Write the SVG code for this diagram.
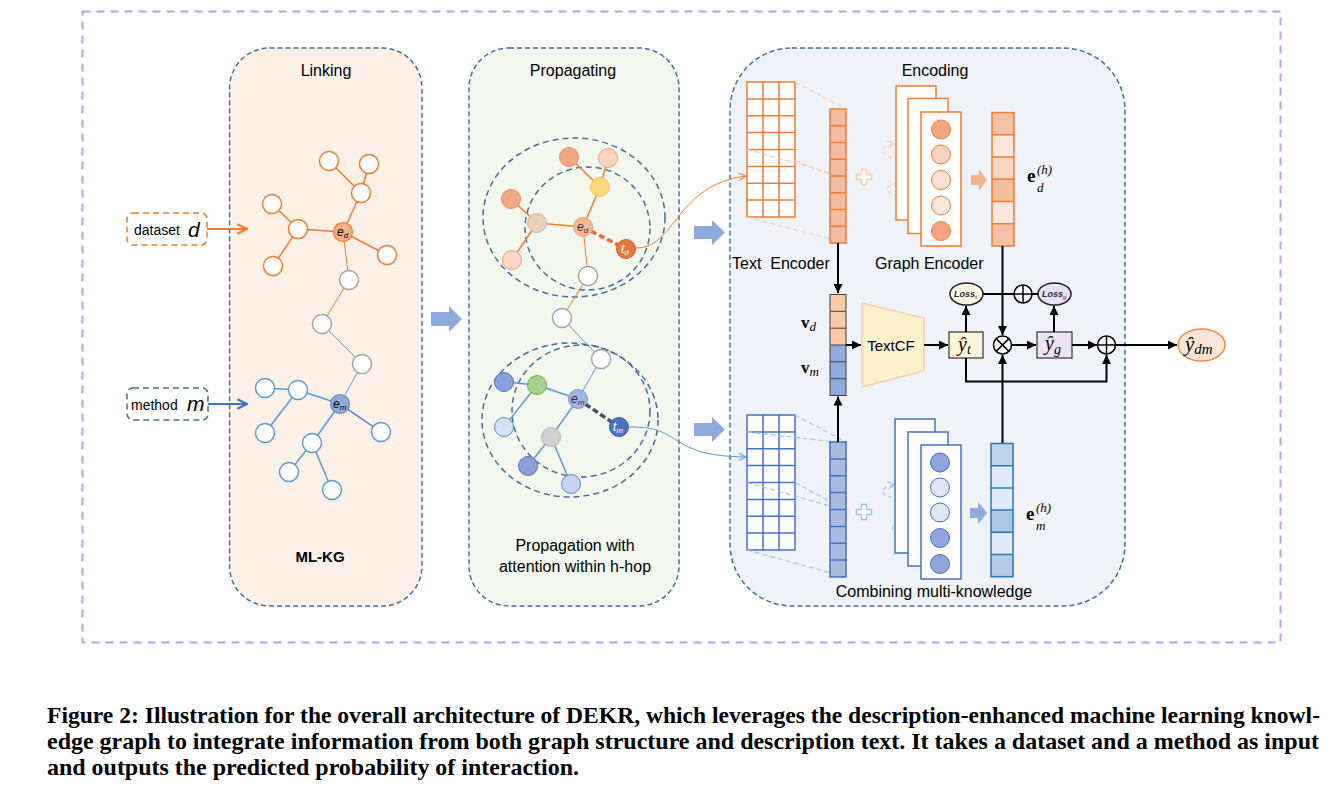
<svg xmlns="http://www.w3.org/2000/svg" width="1343" height="796" viewBox="0 0 1343 796">
<defs>
<style>
.panel{stroke:#44709a;stroke-width:1.5;stroke-dasharray:5 3}
.lbl{font-family:"Liberation Sans",Arial,sans-serif;font-size:16px;fill:#000}
.math{font-family:"Liberation Serif","Times New Roman",serif;fill:#000}
.on{fill:#fff;stroke:#ed7d31;stroke-width:1.5}
.gn{fill:#fff;stroke:#a5a5a5;stroke-width:1.5}
.bn{fill:#fff;stroke:#5b9bd5;stroke-width:1.5}
.oe{stroke:#ed7d31;stroke-width:1.5;fill:none}
.be{stroke:#5b9bd5;stroke-width:1.5;fill:none}
.blk{stroke:#000;stroke-width:2;fill:none}
.ring{fill:none;stroke:#44709a;stroke-width:1.5;stroke-dasharray:6 4}
.gridO{fill:#fff;stroke:#ed7d31;stroke-width:1.5}
.gridB{fill:#fff;stroke:#4472c4;stroke-width:1.5}
.projO{stroke:#f8cbad;stroke-width:1.2;stroke-dasharray:5 3;fill:none}
.projB{stroke:#9dc3e6;stroke-width:1.2;stroke-dasharray:5 3;fill:none}
.cap{font-family:"Liberation Serif","Times New Roman",serif;font-weight:bold;font-size:23px;fill:#000}
.loss{font-family:"Liberation Sans",Arial,sans-serif;font-size:9px;font-style:italic;font-weight:bold;fill:#1f2a50}
</style>
<marker id="ah" viewBox="0 0 10 10" refX="10" refY="5" markerWidth="9" markerHeight="9" markerUnits="userSpaceOnUse" orient="auto"><path d="M0,0 L10,5 L0,10 Z" fill="#000"/></marker>
<marker id="vO" viewBox="0 0 10 10" refX="9" refY="5" markerWidth="12" markerHeight="12" markerUnits="userSpaceOnUse" orient="auto"><path d="M1,1 L9,5 L1,9" fill="none" stroke="#ed7d31" stroke-width="1.8"/></marker>
<marker id="vB" viewBox="0 0 10 10" refX="9" refY="5" markerWidth="12" markerHeight="12" markerUnits="userSpaceOnUse" orient="auto"><path d="M1,1 L9,5 L1,9" fill="none" stroke="#4472c4" stroke-width="1.8"/></marker>
<marker id="vOs" viewBox="0 0 10 10" refX="9" refY="5" markerWidth="9" markerHeight="9" markerUnits="userSpaceOnUse" orient="auto"><path d="M1,1 L9,5 L1,9" fill="none" stroke="#ed7d31" stroke-width="1.2"/></marker>
<marker id="vBs" viewBox="0 0 10 10" refX="9" refY="5" markerWidth="9" markerHeight="9" markerUnits="userSpaceOnUse" orient="auto"><path d="M1,1 L9,5 L1,9" fill="none" stroke="#5b9bd5" stroke-width="1.2"/></marker>
<marker id="vOl" viewBox="0 0 10 10" refX="9" refY="5" markerWidth="9" markerHeight="9" markerUnits="userSpaceOnUse" orient="auto"><path d="M1,1 L9,5 L1,9" fill="none" stroke="#f8cbad" stroke-width="1.2"/></marker>
<marker id="vBl" viewBox="0 0 10 10" refX="9" refY="5" markerWidth="9" markerHeight="9" markerUnits="userSpaceOnUse" orient="auto"><path d="M1,1 L9,5 L1,9" fill="none" stroke="#9dc3e6" stroke-width="1.2"/></marker>
</defs>
<rect width="1343" height="796" fill="#fff"/>

<!-- outer frame -->
<rect id="frame" x="82.5" y="11.5" width="1198" height="631" fill="none" stroke="#c39be6" stroke-width="2" stroke-dasharray="8 6"/>

<!-- panels -->
<g id="panel-linking">
<rect class="panel" x="229.5" y="48" width="192.5" height="558" rx="40" fill="#fdf0e7"/>
<text class="lbl" x="326" y="76" text-anchor="middle">Linking</text>
<text class="lbl" x="320" y="562" text-anchor="middle" style="font-weight:bold;font-size:15px">ML-KG</text>
</g>
<g id="panel-propagating">
<rect class="panel" x="469" y="48" width="210" height="558" rx="40" fill="#f3f7ee"/>
<text class="lbl" x="573" y="76" text-anchor="middle">Propagating</text>
<text class="lbl" x="575" y="551" text-anchor="middle">Propagation with</text>
<text class="lbl" x="575" y="572" text-anchor="middle">attention within h-hop</text>
</g>
<g id="panel-encoding">
<rect class="panel" x="730" y="48" width="395" height="558" rx="62" fill="#eff3f9"/>
<text class="lbl" x="935" y="76" text-anchor="middle">Encoding</text>
<text class="lbl" x="732" y="269">Text&#160; Encoder</text>
<text class="lbl" x="875" y="269">Graph Encoder</text>
<text class="lbl" x="934" y="597" text-anchor="middle">Combining multi-knowledge</text>
</g>

<!-- inputs -->
<g id="input-dataset">
<rect x="127" y="213" width="80" height="32" rx="6" fill="#fff" stroke="#ed7d31" stroke-width="1.5" stroke-dasharray="6 4"/>
<text x="134" y="235" style="font-family:'Liberation Sans',Arial,sans-serif;font-size:14px">dataset</text>
<text x="188" y="237" style="font-family:'Liberation Sans',Arial,sans-serif;font-size:21px;font-style:italic">d</text>
</g>
<g id="input-method">
<rect x="127" y="388" width="81" height="32" rx="6" fill="#fff" stroke="#44709a" stroke-width="1.5" stroke-dasharray="6 4"/>
<text x="131" y="410" style="font-family:'Liberation Sans',Arial,sans-serif;font-size:14px">method</text>
<text x="187" y="411" style="font-family:'Liberation Sans',Arial,sans-serif;font-size:21px;font-style:italic">m</text>
</g>

<!-- block arrows -->
<g id="block-arrows">
<path d="M431,312 H449 V306 L462,319 L449,332 V326 H431 Z" fill="#8ea9db"/>
<path d="M694,226 H712 V220 L725,232.5 L712,245 V239 H694 Z" fill="#8ea9db"/>
<path d="M694,423 H712 V417 L725,429.5 L712,442 V436 H694 Z" fill="#8ea9db"/>
<path d="M971,175 H979 V169 L987,180 L979,191 V185 H971 Z" fill="#f4b183"/>
<path d="M970,508 H978 V502 L987,513 L978,524 V518 H970 Z" fill="#8faadc"/>
</g>

<!-- connectors -->
<g id="connectors">
<line x1="207" y1="229" x2="247" y2="229" stroke="#ed7d31" stroke-width="2" marker-end="url(#vO)"/>
<line x1="208" y1="404" x2="247" y2="404" stroke="#4472c4" stroke-width="2" marker-end="url(#vB)"/>
<line class="oe" x1="329" y1="161" x2="361" y2="193"/>
<line class="oe" x1="369" y1="164" x2="361" y2="193"/>
<line class="oe" x1="361" y1="193" x2="343" y2="232"/>
<line class="oe" x1="272" y1="204" x2="298" y2="229"/>
<line class="oe" x1="298" y1="229" x2="343" y2="232"/>
<line class="oe" x1="298" y1="229" x2="273" y2="266"/>
<line class="oe" x1="343" y1="232" x2="387" y2="255"/>
<line x1="343" y1="232" x2="349" y2="280" stroke="#ed7d31" stroke-width="1"/>
<line x1="349" y1="280" x2="322" y2="324" stroke="#ed7d31" stroke-width="1"/>
<line x1="322" y1="324" x2="362" y2="364" stroke="#5b9bd5" stroke-width="1"/>
<line x1="362" y1="364" x2="340" y2="404" stroke="#5b9bd5" stroke-width="1"/>
<line class="be" x1="265" y1="388" x2="298" y2="390"/>
<line class="be" x1="298" y1="390" x2="340" y2="404"/>
<line class="be" x1="298" y1="390" x2="265" y2="433"/>
<line x1="340" y1="404" x2="381" y2="432" stroke="#4472c4" stroke-width="1.5"/>
<line class="be" x1="340" y1="404" x2="312" y2="443"/>
<line class="be" x1="312" y1="443" x2="289" y2="472"/>
<line class="be" x1="312" y1="443" x2="332" y2="490"/>
</g>

<!-- middle rings -->
<g id="rings-top">
<ellipse class="ring" cx="574" cy="217.5" rx="91" ry="79.5" fill="#fff"/>
<ellipse class="ring" cx="587.5" cy="228.5" rx="62.5" ry="61.5" fill="#fdf6ec"/>
</g>
<g id="rings-bottom">
<ellipse class="ring" cx="570" cy="420" rx="88" ry="77" fill="#fff"/>
<ellipse class="ring" cx="581" cy="411" rx="69" ry="66" fill="none"/>
</g>

<g id="mid-edges">
<line class="oe" x1="569" y1="157" x2="600" y2="187"/>
<line class="oe" x1="608" y1="158" x2="600" y2="187"/>
<line class="oe" x1="600" y1="187" x2="583" y2="227"/>
<line class="oe" x1="511" y1="199" x2="537" y2="223"/>
<line class="oe" x1="537" y1="223" x2="583" y2="227"/>
<line class="oe" x1="537" y1="223" x2="512" y2="260"/>
<line x1="583" y1="227" x2="588" y2="276" stroke="#ed7d31" stroke-width="1"/>
<line x1="588" y1="276" x2="562" y2="318" stroke="#ed7d31" stroke-width="1"/>
<line x1="583" y1="227" x2="626" y2="249" stroke="#e0703a" stroke-width="3.5" stroke-dasharray="6 3"/>
<line x1="562" y1="318" x2="601" y2="359" stroke="#5b9bd5" stroke-width="1"/>
<line x1="601" y1="359" x2="578" y2="399" stroke="#5b9bd5" stroke-width="1"/>
<line class="be" x1="504" y1="382" x2="537" y2="385"/>
<line class="be" x1="537" y1="385" x2="578" y2="399"/>
<line class="be" x1="537" y1="385" x2="504" y2="427"/>
<line class="be" x1="578" y1="399" x2="551" y2="437"/>
<line class="be" x1="551" y1="437" x2="528" y2="466"/>
<line class="be" x1="551" y1="437" x2="571" y2="484"/>
<line x1="578" y1="399" x2="619" y2="427" stroke="#44546a" stroke-width="3.5" stroke-dasharray="6 3"/>
<path d="M636,248 C676,248 675,185 746,176" fill="none" stroke="#ed7d31" stroke-width="1" marker-end="url(#vOs)"/>
<path d="M629,427 C685,426 665,456 746,457" fill="none" stroke="#5b9bd5" stroke-width="1" marker-end="url(#vBs)"/>
</g>

<!-- left graph nodes -->
<g id="kg-dataset-nodes">
<circle class="on" cx="329" cy="161" r="9.5"/>
<circle class="on" cx="369" cy="164" r="9.5"/>
<circle class="on" cx="361" cy="193" r="9.5"/>
<circle class="on" cx="272" cy="204" r="9.5"/>
<circle class="on" cx="298" cy="229" r="9.5"/>
<circle class="on" cx="387" cy="255" r="9.5"/>
<circle class="on" cx="273" cy="266" r="9.5"/>
</g>
<g id="node-ed">
<circle cx="343" cy="232" r="9.5" fill="#f4b183" stroke="#ed7d31" stroke-width="1.2"/>
<text x="337" y="236" style="font-family:'Liberation Sans',Arial,sans-serif;font-size:12px;font-style:italic">e<tspan font-size="8" dy="2">d</tspan></text>
</g>
<g id="kg-bridge-nodes">
<circle class="gn" cx="349" cy="280" r="9.5"/>
<circle class="gn" cx="322" cy="324" r="9.5"/>
<circle class="gn" cx="362" cy="364" r="9.5"/>
</g>
<g id="kg-method-nodes">
<circle class="bn" cx="265" cy="388" r="9.5"/>
<circle class="bn" cx="298" cy="390" r="9.5"/>
<circle class="bn" cx="265" cy="433" r="9.5"/>
<circle class="bn" cx="381" cy="432" r="9.5"/>
<circle class="bn" cx="312" cy="443" r="9.5"/>
<circle class="bn" cx="289" cy="472" r="9.5"/>
<circle class="bn" cx="332" cy="490" r="9.5"/>
</g>
<g id="node-em">
<circle cx="340" cy="404" r="9.5" fill="#8faadc" stroke="#6f8cc8" stroke-width="1.2"/>
<text x="333" y="408" style="font-family:'Liberation Sans',Arial,sans-serif;font-size:12px;font-style:italic">e<tspan font-size="8" dy="2">m</tspan></text>
</g>

<!-- middle nodes -->
<g id="prop-dataset-nodes">
<circle cx="569" cy="157" r="9.5" fill="#f2a888" stroke="#f08a5a" stroke-width="1"/>
<circle cx="608" cy="158" r="9.5" fill="#f9d5c2" stroke="#f0a070" stroke-width="1"/>
<circle cx="600" cy="187" r="9.5" fill="#fed87c" stroke="#f8c850" stroke-width="1"/>
<circle cx="511" cy="199" r="9.5" fill="#f2a888" stroke="#f08a5a" stroke-width="1"/>
<circle cx="537" cy="223" r="9.5" fill="#e9cfba" stroke="#c8b8a8" stroke-width="1"/>
<circle cx="512" cy="260" r="9.5" fill="#f9d8c6" stroke="#f0a070" stroke-width="1"/>
<circle class="gn" cx="588" cy="276" r="9.5"/>
<circle class="gn" cx="562" cy="318" r="9.5"/>
</g>
<g id="prop-ed">
<circle cx="583" cy="227" r="9.5" fill="#f5b897" stroke="#f0a070" stroke-width="1"/>
<text x="577" y="231" style="font-family:'Liberation Sans',Arial,sans-serif;font-size:12px;font-style:italic;fill:#333">e<tspan font-size="8" dy="2">d</tspan></text>
</g>
<g id="prop-td">
<circle cx="626" cy="249" r="9.5" fill="#e07a40" stroke="#c86428" stroke-width="1"/>
<text x="621" y="253" style="font-family:'Liberation Sans',Arial,sans-serif;font-size:12px;font-style:italic;fill:#fff">t<tspan font-size="8" dy="2">d</tspan></text>
</g>
<g id="prop-method-nodes">
<circle class="gn" cx="601" cy="359" r="9.5"/>
<circle cx="504" cy="382" r="9.5" fill="#8a9fd8" stroke="#5a78c0" stroke-width="1"/>
<circle cx="537" cy="385" r="9.5" fill="#a9d18e" stroke="#70ad47" stroke-width="1"/>
<circle cx="504" cy="427" r="9.5" fill="#d6e0f5" stroke="#5b8ad0" stroke-width="1"/>
<circle cx="551" cy="437" r="9.5" fill="#d0d0d0" stroke="#b8b8b8" stroke-width="1"/>
<circle cx="528" cy="466" r="9.5" fill="#8a9fd8" stroke="#5a78c0" stroke-width="1"/>
<circle cx="571" cy="484" r="9.5" fill="#c5d3f0" stroke="#5b8ad0" stroke-width="1"/>
</g>
<g id="prop-em">
<circle cx="578" cy="399" r="9.5" fill="#a4b4e0" stroke="#7f96d0" stroke-width="1"/>
<text x="571" y="403" style="font-family:'Liberation Sans',Arial,sans-serif;font-size:12px;font-style:italic;fill:#333">e<tspan font-size="8" dy="2">m</tspan></text>
</g>
<g id="prop-tm">
<circle cx="619" cy="427" r="9.5" fill="#4f72c0" stroke="#3a5ca8" stroke-width="1"/>
<text x="613" y="431" style="font-family:'Liberation Sans',Arial,sans-serif;font-size:12px;font-style:italic;fill:#fff">t<tspan font-size="8" dy="2">m</tspan></text>
</g>

<!-- Text encoder top -->
<g id="text-encoder-d">
<rect class="gridO" x="747" y="82" width="48" height="135"/>
<path d="M763,82 V217 M779,82 V217 M747,98.9 H795 M747,115.8 H795 M747,132.6 H795 M747,149.5 H795 M747,166.4 H795 M747,183.3 H795 M747,200.1 H795" stroke="#ed7d31" stroke-width="1.5" fill="none"/>
<path class="projO" d="M795,82 L846,109 M747,149.5 L845,177 M795,161 L845,180 M747,217 L846,243"/>
<rect x="830" y="109" width="16" height="134" fill="#f4bca0" stroke="#ed7d31" stroke-width="1.5"/>
<path d="M830,125.75 H846 M830,142.5 H846 M830,159.25 H846 M830,176 H846 M830,192.75 H846 M830,209.5 H846 M830,226.25 H846" stroke="#ed7d31" stroke-width="1.5"/>
</g>
<g id="text-encoder-m">
<rect class="gridB" x="747" y="415" width="48" height="135"/>
<path d="M763,415 V550 M779,415 V550 M747,431.9 H795 M747,448.8 H795 M747,465.6 H795 M747,482.5 H795 M747,499.4 H795 M747,516.3 H795 M747,533.1 H795" stroke="#4472c4" stroke-width="1.5" fill="none"/>
<path class="projB" d="M795,415 L846,442 M747,431.9 L844,443 M747,482.5 L844,510 M795,482.5 L844,509 M747,550 L846,577"/>
<rect x="830" y="442" width="16" height="135" fill="#a9b9e0" stroke="#4472c4" stroke-width="1.5"/>
<path d="M830,458.9 H846 M830,475.75 H846 M830,492.6 H846 M830,509.5 H846 M830,526.4 H846 M830,543.25 H846 M830,560.1 H846" stroke="#4472c4" stroke-width="1.5"/>
</g>

<!-- plus signs -->
<g id="plus-d"><path d="M861.5,169.5 h5 v5 h5 v5 h-5 v5 h-5 v-5 h-5 v-5 h5 Z" fill="#fff" stroke="#f8cbad" stroke-width="1.5"/></g>
<g id="plus-m"><path d="M861.5,504.5 h5 v5 h5 v5 h-5 v5 h-5 v-5 h-5 v-5 h5 Z" fill="#fff" stroke="#9dc3e6" stroke-width="1.5"/></g>

<!-- graph encoder top -->
<g id="graph-encoder-d">
<path d="M906,158 A17.5,7.5 0 1 1 895,143.5" fill="none" stroke="#f8cbad" stroke-width="1.2" stroke-dasharray="4 3" marker-end="url(#vOl)"/>
<path d="M919,194 A18,7 0 1 1 908,182.5" fill="none" stroke="#f8cbad" stroke-width="1.2" stroke-dasharray="4 3" marker-end="url(#vOl)"/>
<rect x="896" y="86" width="40" height="134" fill="#fff" stroke="#ed7d31" stroke-width="1.5"/>
<rect x="908" y="98.5" width="40" height="135" fill="#fff" stroke="#ed7d31" stroke-width="1.5"/>
<rect x="921" y="112" width="40" height="134" fill="#fff" stroke="#ed7d31" stroke-width="1.5"/>
<circle cx="941" cy="129.5" r="9.5" fill="#f4a582" stroke="#ed7d31" stroke-width="1"/>
<circle cx="941" cy="154.5" r="9.5" fill="#f8d3bd" stroke="#ed7d31" stroke-width="1"/>
<circle cx="941" cy="180" r="9.5" fill="#fbe3d5" stroke="#ed7d31" stroke-width="1"/>
<circle cx="941" cy="205.5" r="9.5" fill="#fbe6da" stroke="#ed7d31" stroke-width="1"/>
<circle cx="941" cy="231" r="9.5" fill="#f4a582" stroke="#ed7d31" stroke-width="1"/>
</g>
<g id="graph-encoder-m">
<path d="M906,498 A17.5,7 0 1 1 895,484.5" fill="none" stroke="#9dc3e6" stroke-width="1.2" stroke-dasharray="4 3" marker-end="url(#vBl)"/>
<path d="M919,535 A18,7.5 0 1 1 908,521" fill="none" stroke="#9dc3e6" stroke-width="1.2" stroke-dasharray="4 3" marker-end="url(#vBl)"/>
<rect x="895" y="419" width="40" height="134" fill="#fff" stroke="#4472c4" stroke-width="1.5"/>
<rect x="908" y="432" width="40" height="134" fill="#fff" stroke="#4472c4" stroke-width="1.5"/>
<rect x="921" y="445" width="40" height="134" fill="#fff" stroke="#4472c4" stroke-width="1.5"/>
<circle cx="940" cy="462.5" r="9.5" fill="#8fa5db" stroke="#4472c4" stroke-width="1"/>
<circle cx="940" cy="487.5" r="9.5" fill="#dde6f5" stroke="#4472c4" stroke-width="1"/>
<circle cx="940" cy="512.5" r="9.5" fill="#dde6f5" stroke="#4472c4" stroke-width="1"/>
<circle cx="940" cy="538" r="9.5" fill="#8fa5db" stroke="#4472c4" stroke-width="1"/>
<circle cx="940" cy="564" r="9.5" fill="#8fa5db" stroke="#4472c4" stroke-width="1"/>
</g>

<!-- output embeddings -->
<g id="emb-d">
<rect x="992" y="112.5" width="22" height="22.25" fill="#f4c0a6"/>
<rect x="992" y="134.75" width="22" height="22.25" fill="#fae6da"/>
<rect x="992" y="157" width="22" height="22.25" fill="#f8d5c0"/>
<rect x="992" y="179.25" width="22" height="22.25" fill="#f2bd9a"/>
<rect x="992" y="201.5" width="22" height="22.25" fill="#fae6da"/>
<rect x="992" y="223.75" width="22" height="22.25" fill="#f4c0a6"/>
<rect x="992" y="112.5" width="22" height="133.5" fill="none" stroke="#ed7d31" stroke-width="1.5"/>
<path d="M992,134.75 H1014 M992,157 H1014 M992,179.25 H1014 M992,201.5 H1014 M992,223.75 H1014" stroke="#ed7d31" stroke-width="1.5"/>
<text class="math" x="1027" y="182" font-size="19" font-weight="bold">e</text>
<text class="math" x="1037" y="174" font-size="13" font-style="italic">(h)</text>
<text class="math" x="1037" y="192" font-size="13" font-style="italic">d</text>
</g>
<g id="emb-m">
<rect x="991" y="443.5" width="22" height="22.2" fill="#bdd3ec"/>
<rect x="991" y="465.7" width="22" height="22.2" fill="#e0eaf6"/>
<rect x="991" y="487.9" width="22" height="22.2" fill="#e0eaf6"/>
<rect x="991" y="510.1" width="22" height="22.2" fill="#abc6e6"/>
<rect x="991" y="532.3" width="22" height="22.2" fill="#e0eaf6"/>
<rect x="991" y="554.5" width="22" height="22.2" fill="#b3cbe9"/>
<rect x="991" y="443.5" width="22" height="133.2" fill="none" stroke="#2e75b6" stroke-width="1.5"/>
<path d="M991,465.7 H1013 M991,487.9 H1013 M991,510.1 H1013 M991,532.3 H1013 M991,554.5 H1013" stroke="#2e75b6" stroke-width="1.5"/>
<text class="math" x="1026" y="520" font-size="19" font-weight="bold">e</text>
<text class="math" x="1036" y="512" font-size="13" font-style="italic">(h)</text>
<text class="math" x="1036" y="530" font-size="13" font-style="italic">m</text>
</g>

<!-- v column -->
<g id="v-column">
<rect x="830" y="294.5" width="16" height="50.5" fill="#f8cba5"/>
<rect x="830" y="345" width="16" height="50.5" fill="#8faadc"/>
<rect x="830" y="294.5" width="16" height="101" fill="none" stroke="#404040" stroke-width="1"/>
<path d="M830,311.3 H846 M830,328.2 H846 M830,345 H846 M830,361.8 H846 M830,378.7 H846" stroke="#404040" stroke-width="1"/>
<text class="math" x="801" y="328" font-size="17" font-weight="bold">v<tspan font-weight="normal" font-style="italic" font-size="13" dy="3">d</tspan></text>
<text class="math" x="801" y="373" font-size="17" font-weight="bold">v<tspan font-weight="normal" font-style="italic" font-size="13" dy="3">m</tspan></text>
</g>

<g id="textcf">
<path d="M862,303 L924,318 L924,371 L862,387 Z" fill="#fdf0cc" stroke="#f8cbad" stroke-width="1.5"/>
<text class="lbl" x="891" y="351" text-anchor="middle" style="font-size:15px">TextCF</text>
</g>

<g id="yt">
<rect x="949" y="332" width="34" height="26" fill="#fdf5d9" stroke="#333" stroke-width="1.2"/>
<text class="math" x="958" y="351" font-size="20" font-style="italic">ŷ<tspan font-size="14" dy="3">t</tspan></text>
</g>
<g id="yg">
<rect x="1037" y="332" width="35" height="26" fill="#ece4f6" stroke="#333" stroke-width="1.2"/>
<text class="math" x="1045" y="350" font-size="20" font-style="italic">ŷ<tspan font-size="14" dy="4">g</tspan></text>
</g>
<g id="loss-t">
<ellipse cx="966.5" cy="294" rx="16.5" ry="11" fill="#fdf6e0" stroke="#222" stroke-width="1.5"/>
<text class="loss" x="954" y="297">Loss<tspan font-size="6" dy="2" fill="#c55a11">t</tspan></text>
</g>
<g id="loss-g">
<ellipse cx="1054.5" cy="294" rx="16.5" ry="11" fill="#e8e0f4" stroke="#222" stroke-width="1.5"/>
<text class="loss" x="1042" y="297">Loss<tspan font-size="6" dy="2" fill="#c55a11">g</tspan></text>
</g>

<g id="ops-connectors">
<line class="blk" x1="838" y1="243" x2="838" y2="293" marker-end="url(#ah)"/>
<line class="blk" x1="838" y1="442" x2="838" y2="396.5" marker-end="url(#ah)"/>
<line class="blk" x1="846" y1="345" x2="861" y2="345" marker-end="url(#ah)"/>
<line class="blk" x1="924" y1="345" x2="948" y2="345" marker-end="url(#ah)"/>
<line class="blk" x1="966" y1="332" x2="966" y2="306" marker-end="url(#ah)"/>
<line class="blk" x1="983" y1="294" x2="1014" y2="294"/>
<line class="blk" x1="1032" y1="294" x2="1038" y2="294"/>
<line class="blk" x1="1002.5" y1="246" x2="1002.5" y2="335" marker-end="url(#ah)"/>
<line class="blk" x1="1002.5" y1="443" x2="1002.5" y2="355" marker-end="url(#ah)"/>
<line class="blk" x1="1011.5" y1="345" x2="1036" y2="345" marker-end="url(#ah)"/>
<line class="blk" x1="1054" y1="332" x2="1054" y2="306" marker-end="url(#ah)"/>
<line class="blk" x1="1072" y1="345" x2="1097" y2="345" marker-end="url(#ah)"/>
<path class="blk" d="M966,358 V381.5 H1106.5 V355" marker-end="url(#ah)"/>
<line class="blk" x1="1116" y1="345" x2="1177" y2="345" marker-end="url(#ah)"/>
</g>

<g id="op-plus-loss">
<circle cx="1023" cy="294" r="9" fill="#fff" stroke="#000" stroke-width="1.5"/>
<path d="M1014,294 H1032 M1023,285 V303" stroke="#000" stroke-width="1.5"/>
</g>
<g id="op-times">
<circle cx="1002.5" cy="345" r="9" fill="#fff" stroke="#000" stroke-width="1.5"/>
<path d="M996.1,338.6 L1008.9,351.4 M1008.9,338.6 L996.1,351.4" stroke="#000" stroke-width="1.5"/>
</g>
<g id="op-plus-out">
<circle cx="1106.5" cy="345" r="9" fill="#fff" stroke="#000" stroke-width="1.5"/>
<path d="M1097.5,345 H1115.5 M1106.5,336 V354" stroke="#000" stroke-width="1.5"/>
</g>
<g id="output-ydm">
<ellipse cx="1201.5" cy="345" rx="23.5" ry="16" fill="#fbe5d6" stroke="#ed8b4e" stroke-width="1.5"/>
<text class="math" x="1185" y="351" font-size="21" font-style="italic">ŷ<tspan font-size="15" dy="3">dm</tspan></text>
</g>

<!-- caption -->
<g id="caption">
<text class="cap" x="47" y="723" textLength="1273" lengthAdjust="spacingAndGlyphs">Figure 2: Illustration for the overall architecture of DEKR, which leverages the description-enhanced machine learning knowl-</text>
<text class="cap" x="47" y="749" textLength="1272" lengthAdjust="spacingAndGlyphs">edge graph to integrate information from both graph structure and description text. It takes a dataset and a method as input</text>
<text class="cap" x="47" y="775" textLength="532" lengthAdjust="spacingAndGlyphs">and outputs the predicted probability of interaction.</text>
</g>
</svg>
